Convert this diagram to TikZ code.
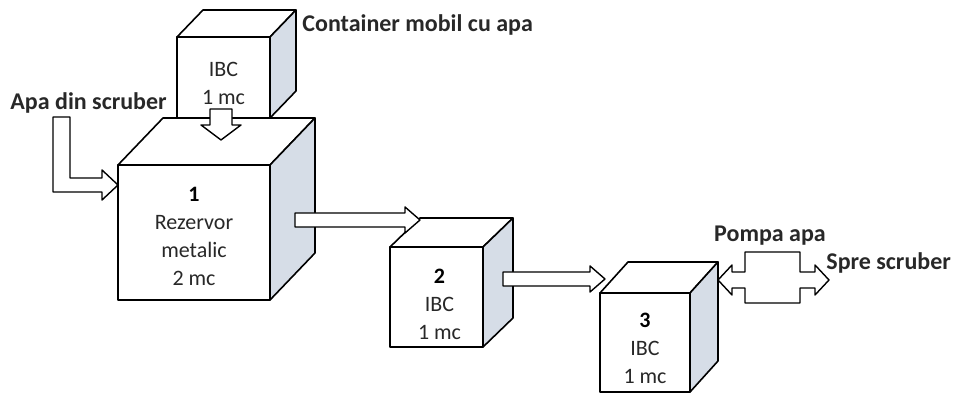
\documentclass[tikz,border=0pt]{standalone}
\usepackage{fontspec}
\setmainfont{Carlito}
\usepackage{tikz}
\usetikzlibrary{calc,positioning}
\definecolor{sidegrey}{RGB}{214,221,231}
\definecolor{inkgrey}{RGB}{40,40,40}

\begin{document}
\begin{tikzpicture}[x=0.5pt, y=-0.5pt, line join=round,
  face/.style={draw=black, fill=white, line width=0.8pt},
  front/.style={face, inner sep=0pt, outer sep=0pt},
  cubetext/.style={align=center, text=inkgrey, font=\fontsize{11}{14}\selectfont},
  lbl/.style={text=inkgrey, font=\fontsize{12}{14}\selectfont\bfseries, inner sep=0pt},
  pipe/.style={draw=black, fill=white, line width=0.7pt}]

\useasboundingbox (0,0) rectangle (953,394);

% =========================================================
% Tanks: front face as node, then top and side faces
% name / x / y / width / height / depth x / depth y
% =========================================================
\foreach \n/\x/\y/\w/\h/\dx/\dy in {ibc0/177/37/93/81/26/27,
    rez1/118/165/152/135/45/47, ibc2/390/247/93/100/30/29,
    ibc3/600/293/90/99/28/31}{
  \node[front, minimum width=\w*0.5pt, minimum height=\h*0.5pt,
        anchor=north west] (\n) at (\x,\y) {};
  \filldraw[face] (\n.north west) -- ++(\dx,-\dy) -- ++(\w,0)
    -- (\n.north east) -- cycle;
  \filldraw[face, fill=sidegrey] (\n.north east) -- ++(\dx,-\dy)
    -- ++(0,\h) -- (\n.south east) -- cycle;
}

\node[cubetext] (t0) at ($(ibc0.center)+(0,6)$) {IBC\\1 mc};
\node[cubetext] (t1) at ($(rez1.center)+(0,4)$)
  {\textbf{\color{black}1}\\Rezervor\\metalic\\2 mc};
\node[cubetext] (t2) at ($(ibc2.center)+(3,7)$) {\textbf{\color{black}2}\\IBC\\1 mc};
\node[cubetext] (t3) at ($(ibc3.center)+(0,6)$) {\textbf{\color{black}3}\\IBC\\1 mc};

% =========================================================
% Flows between tanks (hollow block arrows)
% =========================================================
\coordinate (a12s) at ($(rez1.north east)+(25,55)$);
\coordinate (a12t) at ($(ibc2.north west)+(30,-27)$);
\coordinate (a23s) at ($(ibc2.north east)+(20,32)$);
\coordinate (a23t) at ($(ibc3.north west)+(5,-13)$);

\foreach \s/\t in {a12s/a12t, a23s/a23t}{
  \filldraw[pipe] ($(\s)+(0,-7)$) -- ($(\t |- \s)+(-15,-7)$)
    -- ($(\t |- \s)+(-15,-13)$) -- (\t |- \s) -- ($(\t |- \s)+(-15,13)$)
    -- ($(\t |- \s)+(-15,7)$) -- ($(\s)+(0,7)$) -- cycle;
}

% Container -> tank 1 (down)
\coordinate (dtip) at ($(rez1.north west)+(103,-25)$);
\filldraw[pipe] ($(dtip)+(-11,-31)$) -- ($(dtip)+(11,-31)$)
  -- ($(dtip)+(11,-15)$) -- ($(dtip)+(20,-15)$) -- (dtip)
  -- ($(dtip)+(-20,-15)$) -- ($(dtip)+(-11,-15)$) -- cycle;

% Water from scrubber (L-shaped)
\coordinate (ltip) at ($(rez1.north west)+(0,20)$);
\filldraw[pipe] ($(ltip)+(-65,-68)$) -- ($(ltip)+(-48,-68)$)
  -- ($(ltip)+(-48,-7)$) -- ($(ltip)+(-16,-7)$) -- ($(ltip)+(-16,-15)$)
  -- (ltip) -- ($(ltip)+(-16,15)$) -- ($(ltip)+(-16,7)$)
  -- ($(ltip)+(-65,7)$) -- cycle;

% Pump, both ways
\coordinate (ptip) at ($(ibc3.north east)+(28,-13)$);
\filldraw[pipe] (ptip) -- ++(14,-15) -- ++(0,7) -- ++(13,0) -- ++(0,-20)
  -- ++(55,0) -- ++(0,20) -- ++(15,0) -- ++(0,-7) -- ++(14,15)
  -- ++(-14,15) -- ++(0,-7) -- ++(-15,0) -- ++(0,15) -- ++(-55,0)
  -- ++(0,-15) -- ++(-13,0) -- ++(0,7) -- cycle;

% =========================================================
% Labels
% =========================================================
\node[lbl, anchor=west] (lcont) at (302,25) {Container mobil cu apa};
\node[lbl, anchor=west] (lapa) at (10,103) {Apa din scruber};
\node[lbl] (lpompa) at (770,236) {Pompa apa};
\node[lbl, anchor=west] (lspre) at (826,263) {Spre scruber};

\end{tikzpicture}
\end{document}
